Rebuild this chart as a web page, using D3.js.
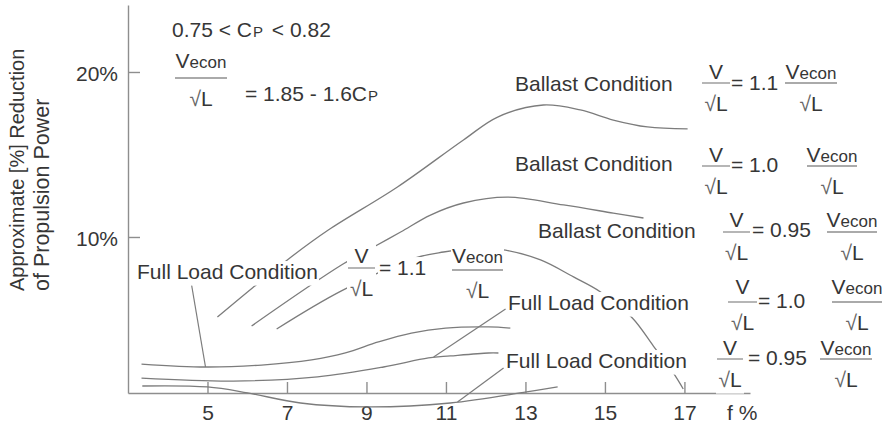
<!DOCTYPE html>
<html><head><meta charset="utf-8">
<script src="https://cdn.jsdelivr.net/npm/d3@7"></script>
<style>
body{margin:0;background:#fff}
svg{display:block;font-family:"Liberation Sans",Arial,Helvetica,sans-serif;white-space:pre}
</style></head><body>
<svg id="c" width="889" height="428"></svg>
<script>
// ---------- data ----------
const xTicks = [5, 7, 9, 11, 13, 15, 17];
const yTicks = [10, 20];
const xTitle = "f %";
const yTitle = ["Approximate [%] Reduction", "of Propulsion Power"];

// [f %, reduction %]
const ballast110 = [[5.25,5.15],[6.13,6.91],[7.04,8.67],[8.04,10.42],[9.78,13.03],[11.44,15.88],[12.3,17.27],[13.45,18.0],[14.38,17.7],[15.21,17.09],[16.07,16.67],[17.08,16.55]];
const ballast100 = [[6.11,4.61],[8.37,8.30],[9.18,9.39],[9.86,10.3],[10.61,11.33],[11.44,12.06],[12.55,12.42],[13.96,11.94],[15.21,11.45],[15.97,11.15]];
const ballast095 = [[6.74,4.42],[8.37,6.73],[10.23,8.73],[10.94,9.09],[11.82,9.33],[12.5,9.2],[13.38,8.61],[14.21,7.58],[14.89,6.67],[15.69,5.09],[16.22,3.39],[16.72,1.76],[16.97,0.79]];
const fullLoad110 = [[3.34,2.30],[4.95,2.12],[6.36,2.24],[7.62,2.55],[8.47,2.97],[9.30,3.64],[10.13,4.18],[10.99,4.48],[12.07,4.55],[12.62,4.48]];
const fullLoad100 = [[3.34,1.45],[5.65,1.27],[7.77,1.52],[9.43,2.12],[10.56,2.67],[11.11,2.79],[12.07,2.97],[12.32,2.97]];
const fullLoad095 = [[3.36,0.97],[5.0,0.91],[6.01,0.55],[7.34,-0.06],[9.03,-0.30],[11.11,-0.06],[13.03,0.61],[13.81,0.91]];
// leader lines [from, to]
const leaders = [
  [[4.60,7.09],[4.95,2.12]],
  [[12.50,5.64],[10.69,2.73]],
  [[12.45,2.06],[11.29,0.0]]
];

// ---------- layout ----------
const textColor = "#363636", lineColor = "#7c7c7c", axisColor = "#8e8e8e";
const FS = 21;
const svg = d3.select("#c");

const x = d3.scaleLinear().domain([3, 18.65]).range([128, 750]);
const y = d3.scaleLinear().domain([0.545, 24.06]).range([393, 5]);

// axes
const gx = svg.append("g").attr("transform", "translate(0,393)")
  .call(d3.axisBottom(x).tickValues(xTicks).tickSizeInner(-11).tickSizeOuter(0).tickPadding(12));
const gy = svg.append("g").attr("transform", "translate(128,0)")
  .call(d3.axisLeft(y).tickValues(yTicks).tickSizeInner(-12).tickSizeOuter(0).tickPadding(10).tickFormat(d => d + "%"));
[gx, gy].forEach(g => {
  g.attr("font-family", null).attr("font-size", FS);
  g.selectAll("path,line").attr("stroke", axisColor).attr("stroke-width", 1.4);
  g.selectAll("text").attr("fill", textColor);
});
gy.selectAll("text").attr("dy", "0.4em");

svg.append("text").attr("x", 727).attr("y", 420).attr("font-size", FS).attr("fill", textColor).text(xTitle);

yTitle.forEach((t, i) => {
  svg.append("text")
    .attr("transform", `translate(${24 + i * 25},291) rotate(-90)`)
    .attr("font-size", i === 0 ? 20 : 21.5).attr("fill", textColor).text(t);
});

// curves
const line = d3.line().x(d => x(d[0])).y(d => y(d[1])).curve(d3.curveCatmullRom.alpha(0.5));
const curves = [ballast110, ballast100, ballast095, fullLoad110, fullLoad100, fullLoad095];
svg.append("g").selectAll("path").data(curves).join("path")
  .attr("d", line).attr("fill", "none").attr("stroke", lineColor).attr("stroke-width", 1.3);
svg.append("g").selectAll("line").data(leaders).join("line")
  .attr("x1", d => x(d[0][0])).attr("y1", d => y(d[0][1]))
  .attr("x2", d => x(d[1][0])).attr("y2", d => y(d[1][1]))
  .attr("stroke", lineColor).attr("stroke-width", 1.2);

// labels (with white backgrounds masking the curves)
const bg = svg.append("g");
const lab = svg.append("g").attr("fill", textColor).attr("font-size", FS);
const pad = 2;
function maskText(sel, fs) {
  const b = sel.node().getBBox();
  const base = +sel.attr("y");
  bg.append("rect").attr("x", b.x - 1).attr("width", b.width + 2)
    .attr("y", base - 0.76 * fs - pad).attr("height", 0.98 * fs + 2 * pad).attr("fill", "#fff");
}
function plain(t, xx, yy) {
  const s = lab.append("text").attr("x", xx).attr("y", yy).text(t);
  maskText(s, FS);
  return s;
}
function withSmall(t, small, rest, xx, yy) {
  const s = lab.append("text").attr("x", xx).attr("y", yy);
  s.append("tspan").text(t);
  s.append("tspan").attr("font-size", 15).attr("dx", 1).text(small);
  if (rest) s.append("tspan").attr("dx", 3).text(rest);
  maskText(s, FS);
  return s;
}
function frac(num, x1, x2, yBar, gap) {
  const cx = (x1 + x2) / 2;
  bg.append("rect").attr("x", x1 - 1).attr("width", x2 - x1 + 2)
    .attr("y", yBar - gap - 0.76 * FS - pad).attr("height", gap + 0.76 * FS + 28 + 0.22 * FS + 2 * pad).attr("fill", "#fff");
  const n = lab.append("text").attr("x", cx).attr("y", yBar - gap).attr("text-anchor", "middle");
  n.append("tspan").text("V");
  if (num === "Vecon") n.append("tspan").attr("font-size", 17).text("econ");
  lab.append("line").attr("x1", x1).attr("x2", x2).attr("y1", yBar).attr("y2", yBar)
    .attr("stroke", axisColor).attr("stroke-width", 1.3);
  const d = lab.append("text").attr("x", cx).attr("y", yBar + 28).attr("text-anchor", "middle");
  d.append("tspan").attr("fill", "#666").text("\u221A");
  d.append("tspan").text("L");
}

// top-left conditions
withSmall("0.75 < C", "P", "  < 0.82", 172, 37);
frac("Vecon", 175, 227, 78, 10);
withSmall("= 1.85 - 1.6C", "P", null, 245, 101);

// condition labels
plain("Ballast Condition", 515, 91);
frac("V", 702, 730, 83, 4); plain("= 1.1", 731, 90); frac("Vecon", 785, 837, 83, 4);

plain("Ballast Condition", 515, 171);
frac("V", 702, 730, 166, 4); plain("= 1.0", 731, 172); frac("Vecon", 807, 857, 166, 4);

plain("Ballast Condition", 538, 238);
frac("V", 723, 750, 232, 5); plain("= 0.95", 752, 237); frac("Vecon", 827, 877, 232, 5);

plain("Full Load Condition", 137, 279);
frac("V", 348, 375, 268, 5); plain("= 1.1", 379, 275); frac("Vecon", 452, 503, 270, 7);

plain("Full Load Condition", 508, 310);
frac("V", 728, 757, 302, 8); plain("= 1.0", 758, 308); frac("Vecon", 832, 882, 302, 8);

plain("Full Load Condition", 506, 368);
frac("V", 717, 743, 359, 4); plain("= 0.95", 748, 365); frac("Vecon", 820, 872, 359, 4);
</script>
</body></html>
